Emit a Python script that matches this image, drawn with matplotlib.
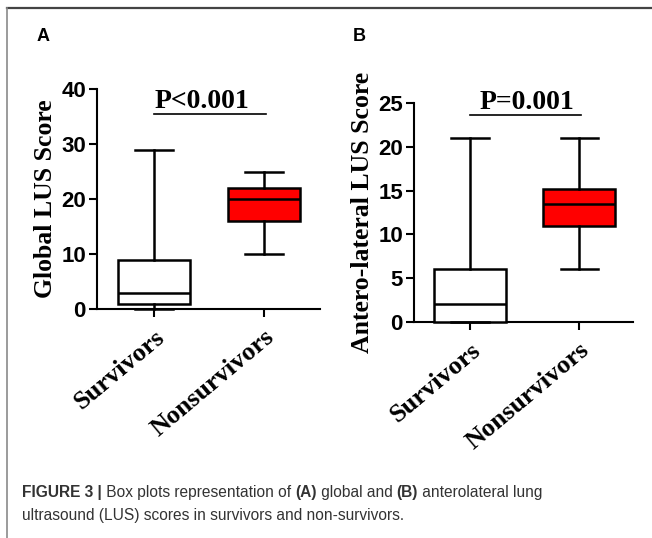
import matplotlib.pyplot as plt
from matplotlib.lines import Line2D

# data (five-number summaries)
groups = ['Survivors', 'Nonsurvivors']
box_colors = ['white', '#ff0000']

global_min = [0, 10]
global_q1 = [1, 16]
global_med = [3, 20]
global_q3 = [9, 22]
global_max = [29, 25]

antero_min = [0, 6]
antero_q1 = [0, 11]
antero_med = [2, 13.5]
antero_q3 = [6, 15.2]
antero_max = [21, 21]

global_ticks = [0, 10, 20, 30, 40]
antero_ticks = [0, 5, 10, 15, 20, 25]

serif = 'Liberation Serif'
sans = 'Liberation Sans'

fig = plt.figure(figsize=(6.52, 5.38), dpi=100)


def draw_panel(ax, mins, q1s, meds, q3s, maxs, ticks, ylabel, ptext, ybar, xtext):
    stats = []
    for i in range(len(groups)):
        stats.append({'whislo': mins[i], 'q1': q1s[i], 'med': meds[i],
                      'q3': q3s[i], 'whishi': maxs[i], 'fliers': []})
    lw = 1.8
    bp = ax.bxp(stats, positions=[1, 2], widths=0.66, capwidths=0.34,
                patch_artist=True, showfliers=False,
                boxprops=dict(linewidth=lw, edgecolor='black'),
                medianprops=dict(linewidth=lw, color='black'),
                whiskerprops=dict(linewidth=lw, color='black'),
                capprops=dict(linewidth=lw, color='black'))
    for patch, c in zip(bp['boxes'], box_colors):
        patch.set_facecolor(c)
    for art in bp['caps'] + bp['whiskers'] + bp['medians'] + bp['boxes']:
        art.set_clip_on(False)
        art.set_zorder(4)

    ax.set_ylim(ticks[0], ticks[-1])
    ax.set_yticks(ticks)
    ax.set_xticks([1, 2])
    ax.set_xticklabels(groups, rotation=40, ha='right', rotation_mode='anchor',
                       family=serif, fontweight='bold', fontsize=19)
    for lab in ax.get_yticklabels():
        lab.set_family(sans)
        lab.set_fontweight('bold')
        lab.set_fontsize(16)
    ax.tick_params(axis='both', direction='out', length=6, width=1.5, pad=2)
    ax.tick_params(axis='x', pad=6)
    ax.set_ylabel(ylabel, family=serif, fontweight='bold', fontsize=18.5, labelpad=3)
    ax.spines['top'].set_visible(False)
    ax.spines['right'].set_visible(False)
    ax.spines['left'].set_linewidth(1.5)
    ax.spines['bottom'].set_linewidth(1.5)

    # significance bar
    ax.plot([1, 2.02], [ybar, ybar], color='black', lw=1.2, clip_on=False)
    ax.text(xtext, ybar, ptext, ha='center', va='bottom',
            family=serif, fontweight='bold', fontsize=20,
            transform=ax.transData)


axA = fig.add_axes([97 / 652, 1 - 309 / 538, 223 / 652, 220 / 538])
axA.set_xlim(0.482, 2.51)
draw_panel(axA, global_min, global_q1, global_med, global_q3, global_max,
           global_ticks, 'Global LUS Score', 'P<0.001', 35.5, 1.44)

axB = fig.add_axes([414 / 652, 1 - 322 / 538, 219 / 652, 219 / 538])
axB.set_xlim(0.486, 2.495)
draw_panel(axB, antero_min, antero_q1, antero_med, antero_q3, antero_max,
           antero_ticks, 'Antero-lateral LUS Score', 'P=0.001', 23.6, 1.52)

# panel letters
fig.text(37 / 652, 1 - 37 / 538, 'A', family=sans, fontweight='bold', fontsize=13, va='center')
fig.text(353 / 652, 1 - 37 / 538, 'B', family=sans, fontweight='bold', fontsize=13, va='center')

# frame lines
fig.add_artist(Line2D([7 / 652, 1], [1 - 8 / 538, 1 - 8 / 538], color='#444444', lw=1.6))
fig.add_artist(Line2D([7 / 652, 7 / 652], [0, 1 - 8 / 538], color='#8a8a8a', lw=1.2))

# caption, pieces placed one after another
cap_color = '#333333'
line1 = [('FIGURE 3 |', 'bold'), (' Box plots representation of ', 'normal'),
         ('(A)', 'bold'), (' global and ', 'normal'), ('(B)', 'bold'),
         (' anterolateral lung', 'normal')]
line2 = [('ultrasound (LUS) scores in survivors and non-survivors.', 'normal')]

renderer = fig.canvas.get_renderer()
for pieces, ypix in [(line1, 497), (line2, 520)]:
    x = 22 / 652
    for txt, wt in pieces:
        t = fig.text(x, 1 - ypix / 538, txt, family=sans, fontweight=wt,
                     fontsize=11.2, color=cap_color, va='baseline')
        bb = t.get_window_extent(renderer=renderer)
        x += bb.width / fig.bbox.width

fig.savefig('out.png', dpi=100)
